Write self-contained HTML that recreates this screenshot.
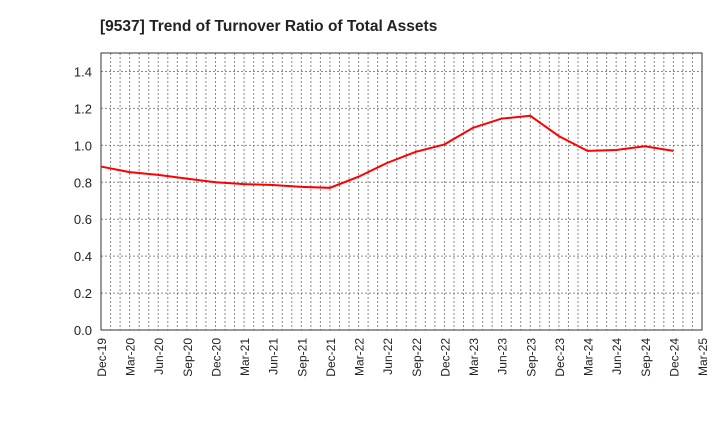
<!DOCTYPE html>
<html><head><meta charset="utf-8"><style>
body{margin:0;background:#fff;width:720px;height:440px;overflow:hidden;font-family:"Liberation Sans",sans-serif}
</style></head><body>
<svg id="c" width="720" height="440">
<text x="100" y="31" font-size="15.5" font-weight="bold" fill="#222">[9537]  Trend of Turnover Ratio of Total Assets</text>
</svg>
<script>
const categories=["Dec-19","Mar-20","Jun-20","Sep-20","Dec-20","Mar-21","Jun-21","Sep-21","Dec-21","Mar-22","Jun-22","Sep-22","Dec-22","Mar-23","Jun-23","Sep-23","Dec-23","Mar-24","Jun-24","Sep-24","Dec-24","Mar-25"];
const values=[0.885,0.855,0.84,0.82,0.80,0.79,0.785,0.775,0.77,0.83,0.905,0.965,1.005,1.095,1.145,1.16,1.05,0.97,0.975,0.995,0.97];
const yTicks=[0,0.2,0.4,0.6,0.8,1.0,1.2,1.4];
const L=101,R=702,T=53,B=330,yMax=1.5;
const NS="http://www.w3.org/2000/svg",svg=document.getElementById('c');
const x=i=>L+(R-L)*i/(categories.length-1);
const y=v=>B-(B-T)*v/yMax;
function mk(t,a){const e=document.createElementNS(NS,t);for(const k in a)e.setAttribute(k,a[k]);svg.appendChild(e);return e;}
for(let m=1;m<(categories.length-1)*3;m++){
 const xx=L+(R-L)*m/((categories.length-1)*3);
 const g=mk('line',{x1:xx,x2:xx,y1:T,y2:B,stroke:'#888','stroke-dasharray':'2,2'});
 
 
}
yTicks.forEach(v=>{
 if(v>0){const g=mk('line',{x1:L,x2:R,y1:y(v),y2:y(v),stroke:'#888','stroke-dasharray':'2,2'});
 
 }
 const t=mk('text',{x:L-9,y:y(v)+5,'text-anchor':'end','font-size':13,fill:'#222'});t.textContent=v.toFixed(1);
 
 
});
const fr=mk('rect',{x:L,y:T,width:R-L,height:B-T,fill:'none',stroke:'#333'});


categories.forEach((c,i)=>{
 const t=mk('text',{transform:`translate(${x(i)+5},${B+8}) rotate(-90)`,'text-anchor':'end','font-size':12,fill:'#222'});t.textContent=c;
 
 
});
const p=mk('polyline',{points:values.map((v,i)=>x(i)+','+y(v)).join(' '),fill:'none',stroke:'#f00','stroke-width':2});


</script>
</body></html>
